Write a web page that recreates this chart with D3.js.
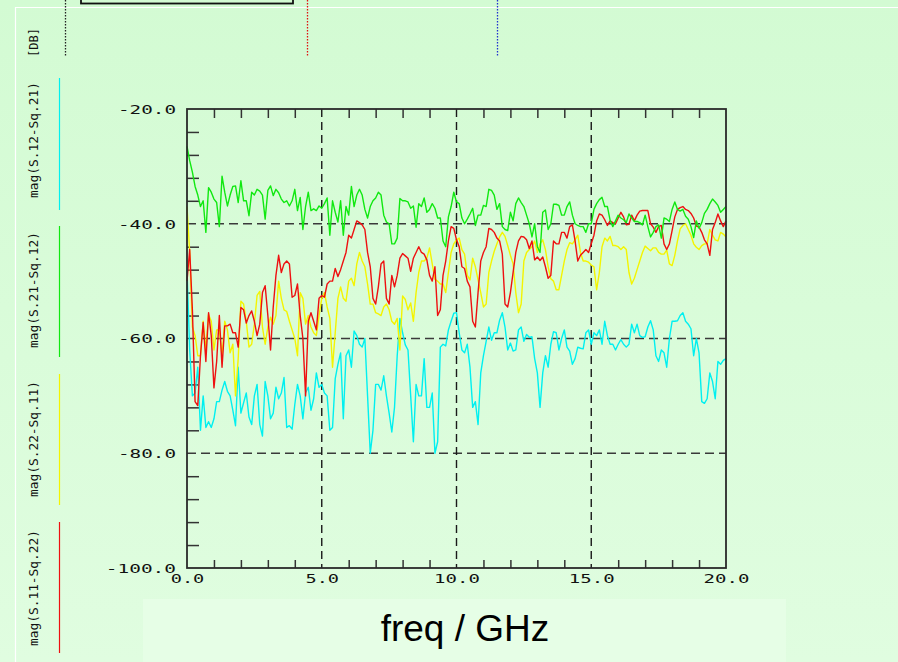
<!DOCTYPE html>
<html>
<head>
<meta charset="utf-8">
<script src="https://cdn.jsdelivr.net/npm/d3@7"></script>
<style>
  html, body { margin: 0; padding: 0; background: #d8fcd8; }
  svg { display: block; }
  .mono { font-family: "DejaVu Sans Mono", "Liberation Mono", monospace; }
</style>
</head>
<body>
<svg id="chart" width="898" height="662"></svg>
<script>
// Frequency grid, GHz (0.0 .. 20.0 in 0.1 GHz steps)
const freqStepGHz = 0.1;
const freqCount = 201;

// mag(S.12-Sq.21), dB
const magS12Sq21 = [
  -48,-62,-70,-69.5,-65,-76,-70,-75.5,-74.5,-75.5,
  -74,-71,-71,-69,-67.5,-69.2,-70,-72.5,-75.2,-65,
  -73,-71.2,-69.5,-73.7,-75,-70,-68,-75,-77,-67.5,
  -70,-74,-73,-68.5,-70.5,-69.5,-66.8,-75.5,-75.2,-75.8,
  -71.5,-68,-70,-74,-69.5,-68.5,-72.5,-70.5,-66,-68.5,
  -68,-69.5,-70,-76,-75.5,-67,-64.5,-62.5,-74,-63,
  -62,-65,-58.7,-59.5,-61,-61.5,-60,-70,-80,-76,
  -68,-68,-69,-66.5,-70,-73,-76.3,-72,-63,-56.5,
  -59,-61.1,-62,-70,-78,-68,-70,-70,-63.5,-72,
  -72,-69.5,-80,-78,-61.5,-61,-61.3,-58.5,-57,-55.6,
  -55.5,-59,-62,-62.5,-61,-65,-72,-71,-75,-66,
  -63,-60.5,-58,-60.3,-59,-59,-56.8,-55.5,-58,-62,
  -60.8,-62.2,-62,-58.5,-58,-60.5,-59.3,-59.8,-59.7,-63.5,
  -66,-72,-66,-63,-65,-61,-58.8,-59,-62,-60,
  -58.5,-61.5,-62.2,-64.5,-63.5,-61.5,-61.7,-61.8,-59,-58.5,
  -61,-59,-59.5,-58.5,-61,-57,-59.5,-61,-61,-62,
  -61,-60.2,-61,-61.5,-61,-57.5,-59,-57.5,-59.5,-59.8,
  -59.7,-58,-56.9,-58.5,-63,-64,-62,-62.5,-65,-60,
  -57,-57,-56.9,-56,-55.5,-57,-57.5,-58.3,-63,-60,
  -62.5,-71,-71.3,-70.5,-66,-67.5,-70.5,-64,-64.5,-63.8,
  -63.5
];

// mag(S.21-Sq.12), dB
const magS21Sq12 = [
  -26.5,-29,-31,-33.5,-35,-37,-36,-41.5,-33.7,-34.5,
  -35.7,-36.3,-40.5,-31.7,-34.5,-36.9,-35,-33.5,-33.4,-36.3,
  -32.5,-36,-36,-38.6,-34.5,-35,-34,-34.3,-35,-39.2,
  -34.2,-33.4,-35.1,-34,-34.6,-35.7,-36.3,-36,-36.9,-36,
  -34,-37.7,-35.4,-41,-37,-34.5,-37.7,-37.4,-37.7,-36.9,
  -37.3,-36.5,-35.5,-42,-36,-38,-39.7,-36,-42,-37,
  -38.5,-33.5,-37,-35,-34,-35,-37.5,-39,-37,-36,
  -35.5,-34.5,-35,-38.5,-39.7,-40,-43.5,-43.5,-42.5,-35.6,
  -36,-36,-36.2,-37.3,-36.9,-40.6,-36.5,-37,-35.5,-38,
  -37.5,-36.5,-37.3,-39,-39,-43,-44,-38.8,-37,-34.5,
  -36.2,-36.5,-39,-40,-39.2,-38.3,-37.3,-40.3,-38.5,-38.5,
  -36.8,-37,-34,-34.2,-35,-37.5,-36.5,-40.5,-41,-41.2,
  -38,-39.5,-36.5,-35.5,-36.3,-37,-38.5,-40,-42.3,-40,
  -44,-45,-38,-37.6,-41,-40,-36.6,-36.6,-36.8,-38.5,
  -38.5,-37,-36.2,-38.5,-40,-40.3,-40.5,-40.5,-41.5,-40,
  -40,-37.5,-36.5,-35.8,-35.4,-37,-37,-39.4,-40.5,-39.5,
  -38.5,-39,-39.3,-39.8,-38.3,-39,-39.6,-39.6,-39.8,-40.2,
  -38.5,-40.5,-42.3,-41.5,-40.5,-40.2,-42.5,-39,-39.2,-39.6,
  -37.5,-36.2,-37.5,-37.8,-37.5,-38.7,-39.2,-40.5,-42.4,-39.5,
  -40.8,-39.8,-38.2,-37.5,-36.5,-35.7,-36.2,-36.8,-38,-37.5,
  -37
];

// mag(S.22-Sq.11), dB
const magS22Sq11 = [
  -37,-45,-58,-59.5,-63,-63,-57,-62,-55.8,-57,
  -62,-58.5,-58.5,-63,-57,-58.5,-62.5,-61,-70,-63.5,
  -53.5,-54,-57,-61.5,-61,-57.5,-52.5,-51.8,-58,-61,
  -58,-56.3,-57.5,-56,-50,-53,-55,-55.3,-57,-58.5,
  -60,-63,-52,-53,-57.5,-56,-58,-59,-59.5,-56,
  -53,-52,-54.5,-56.5,-65,-59,-53,-51,-53,-53.5,
  -50,-49.5,-50.8,-47,-45,-46.5,-47.5,-50.5,-54,-54,
  -55.5,-55.7,-56,-54.5,-54,-55,-57,-57.5,-56.5,-62,
  -52.6,-53.2,-55,-53.8,-57,-52,-48.5,-46.5,-46.5,-46,
  -44.2,-47,-49.7,-50,-50.5,-50.5,-52,-48.5,-45,-43.5,
  -42.8,-42.5,-44.5,-45.3,-49,-49.8,-46,-47.5,-49.8,-52,
  -54.5,-54,-48.5,-46.5,-44.8,-43.5,-42.3,-41.5,-42.2,-43.8,
  -45.5,-47,-52,-55.5,-54,-46.5,-45,-44.5,-44,-43,
  -45,-43.5,-42.8,-44.5,-47.5,-49.6,-50,-51.5,-51.5,-49,
  -46.5,-44.5,-43.3,-43.5,-42.8,-42,-45,-46.5,-46.5,-46.7,
  -47.2,-47.5,-51.5,-48.5,-44,-42.5,-43,-42.2,-43.8,-43.8,
  -44,-44.5,-44,-44.5,-48.5,-50.5,-49.5,-48,-46.5,-45,
  -43.9,-44.3,-44.7,-44.2,-44.2,-45,-45.3,-45.3,-44.6,-47,
  -47.3,-45.5,-43,-40.9,-40.3,-40,-41,-42,-43.5,-44.1,
  -44.5,-43.8,-43.5,-43.5,-41,-42,-42.8,-43,-41.5,-41.8,
  -42.3
];

// mag(S.11-Sq.22), dB
const magS11Sq22 = [
  -50,-44.5,-55,-71,-71.7,-63,-57.2,-64,-55.5,-59.5,
  -68.6,-64,-56,-65,-57.8,-57.8,-57.5,-59,-59,-61.5,
  -54.6,-55,-57.3,-56,-55.2,-57,-59.5,-57.5,-52,-50.8,
  -56,-62,-54.5,-49,-45.5,-48.5,-47,-46.5,-47,-52.8,
  -52.5,-50.5,-56,-60,-70,-57,-55.5,-57,-58.5,-53,
  -52.5,-52.8,-50.5,-50,-50,-47.8,-49.2,-48,-46.5,-45,
  -42,-42.5,-41,-39.5,-39.8,-40.2,-41,-45,-47.5,-53,
  -54,-51,-47,-46.5,-53,-54,-49,-51,-49,-46,
  -45.2,-45.6,-46,-48.3,-46,-45,-44,-45,-45.3,-46.3,
  -49,-50,-47.5,-56,-55,-49,-46.5,-43,-40.5,-40.8,
  -42.8,-44,-47.5,-47.8,-50,-51,-57,-58,-52,-46.5,
  -45,-44,-40.8,-41,-41.5,-42.5,-43,-45.3,-54,-54.5,
  -52,-48.5,-45,-43,-42.2,-42.3,-42.8,-44.3,-43,-46.3,
  -45.8,-46.4,-45.8,-47.5,-49.5,-49,-43,-43.5,-43.5,-41.5,
  -41.5,-42.5,-40.5,-40.2,-43,-46.5,-45.5,-45,-44.5,-45,
  -43.5,-42,-39.5,-38.3,-38.5,-39.3,-40.3,-39.5,-39.8,-40,
  -39,-38,-38.8,-40.2,-40.1,-38.5,-39.5,-38.5,-37.8,-37.7,
  -37.7,-37.7,-40,-40.6,-41.5,-40.5,-40.3,-43.5,-44.5,-43.5,
  -41.2,-38.8,-37.5,-37.2,-37,-37.5,-37.7,-38.2,-39,-40.4,
  -40.6,-41.5,-42.8,-43.5,-45.5,-41,-39.8,-38.3,-39.5,-40.5,
  -39.5
];

const seriesNames = ["mag(S.12-Sq.21)", "mag(S.21-Sq.12)", "mag(S.22-Sq.11)", "mag(S.11-Sq.22)"];
const seriesColors = ["#00f0f0", "#10e810", "#f4f400", "#ee1010"];
const seriesValues = [magS12Sq21, magS21Sq12, magS22Sq11, magS11Sq22];
const drawOrder = [0, 2, 3, 1];

const xTickValues = [0, 5, 10, 15, 20];
const xTickLabels = ["0.0", "5.0", "10.0", "15.0", "20.0"];
const yTickValues = [-20, -40, -60, -80, -100];
const yTickLabels = ["-20.0", "-40.0", "-60.0", "-80.0", "-100.0"];
const yUnitLabel = "[DB]";
const xAxisTitle = "freq / GHz";

const freqs = d3.range(freqCount).map(i => +(i * freqStepGHz).toFixed(1));

const svg = d3.select("#chart");
const W = 898, H = 662;

// page background
const defs = svg.append("defs");
const grad = defs.append("linearGradient").attr("id", "bg").attr("x1", 0).attr("y1", 0).attr("x2", 0).attr("y2", 1);
grad.append("stop").attr("offset", "0%").attr("stop-color", "#d3fbd3");
grad.append("stop").attr("offset", "100%").attr("stop-color", "#e0fde0");
svg.append("rect").attr("width", W).attr("height", H).attr("fill", "url(#bg)");

// inner panel edge
svg.append("path").attr("d", "M15.5,662 V7.5 H898").attr("fill", "none")
  .attr("stroke", "#ffffff").attr("stroke-width", 1.2);

// lighter band behind the x-axis title
svg.append("rect").attr("x", 143).attr("y", 599).attr("width", 643).attr("height", 63)
  .attr("fill", "#e6fee6");

// header box and marker lines
svg.append("rect").attr("x", 81).attr("y", -10).attr("width", 212).attr("height", 13.5)
  .attr("fill", "none").attr("stroke", "#111").attr("stroke-width", 1.8);
[["#222", 65], ["#e01010", 307], ["#2030d0", 497]].forEach(([c, x]) => {
  svg.append("line").attr("x1", x + 0.5).attr("x2", x + 0.5).attr("y1", 0).attr("y2", 56)
    .attr("stroke", c).attr("stroke-width", 1.3).attr("stroke-dasharray", "1.5,1.5");
});

// scales
const x = d3.scaleLinear().domain([0, 20]).range([187, 726]);
const y = d3.scaleLinear().domain([-100, -20]).range([568, 109]);

const ink = "#2a2a2a";

// grid (dashed)
const grid = svg.append("g");
[-40, -60, -80].forEach(v => {
  grid.append("line").attr("x1", x(0)).attr("x2", x(20)).attr("y1", y(v)).attr("y2", y(v))
    .attr("stroke", "#3a3a3a").attr("stroke-width", 1.5).attr("stroke-dasharray", "9,5");
});
[5, 10, 15].forEach(v => {
  grid.append("line").attr("x1", x(v)).attr("x2", x(v)).attr("y1", y(-20)).attr("y2", y(-100))
    .attr("stroke", "#1a1a1a").attr("stroke-width", 1.4).attr("stroke-dasharray", "8,5");
});

// minor ticks via d3 axes
const minorX = d3.range(1, 20).filter(v => v % 5 !== 0);
const minorY = d3.range(-96, -20, 4).filter(v => v % 20 !== 0);
const tickStyle = g => {
  g.select(".domain").remove();
  g.selectAll(".tick line").attr("stroke", "#333").attr("stroke-width", 1.5);
  g.selectAll("text").remove();
};
svg.append("g").attr("transform", `translate(0,${y(-20)})`)
  .call(d3.axisBottom(x).tickValues(minorX).tickSize(9)).call(tickStyle);
svg.append("g").attr("transform", `translate(0,${y(-100)})`)
  .call(d3.axisTop(x).tickValues(minorX).tickSize(8)).call(tickStyle);
svg.append("g").attr("transform", `translate(${x(0)},0)`)
  .call(d3.axisRight(y).tickValues(minorY).tickSize(12)).call(tickStyle);

// series
const line = d3.line().x((d, i) => x(freqs[i])).y(d => y(d));
const plot = svg.append("g");
drawOrder.forEach(k => {
  plot.append("path").datum(seriesValues[k]).attr("d", line)
    .attr("fill", "none").attr("stroke", seriesColors[k]).attr("stroke-width", 1.4)
    .attr("stroke-linejoin", "round");
});

// frame
svg.append("rect").attr("x", x(0)).attr("y", y(-20)).attr("width", x(20) - x(0)).attr("height", y(-100) - y(-20))
  .attr("fill", "none").attr("stroke", ink).attr("stroke-width", 1.8);

// wide plotter-style lettering: each character gets a fixed cell
const CELL = 12.2;
const plotterText = (sel, n) => sel.attr("class", "mono").attr("font-size", 12).attr("fill", "#111")
  .attr("lengthAdjust", "spacingAndGlyphs").attr("textLength", CELL * n - 3);

// axis labels
const yAxis = d3.axisLeft(y).tickValues(yTickValues).tickSize(0).tickPadding(0)
  .tickFormat((d, i) => yTickLabels[i]);
const gy = svg.append("g").attr("transform", `translate(${x(0) - 11},0)`).call(yAxis);
gy.select(".domain").remove();
gy.selectAll("text").each(function (d, i) {
  plotterText(d3.select(this), yTickLabels[i].length).attr("dy", "0.36em");
});

const xAxis = d3.axisBottom(x).tickValues(xTickValues).tickSize(0).tickPadding(0)
  .tickFormat((d, i) => xTickLabels[i]);
const gx = svg.append("g").attr("transform", `translate(0,${y(-100) + 14})`).call(xAxis);
gx.select(".domain").remove();
gx.selectAll("text").each(function (d, i) {
  plotterText(d3.select(this), xTickLabels[i].length).attr("dy", "0.1em");
});

svg.append("text").attr("x", 465).attr("y", 641).attr("text-anchor", "middle")
  .attr("font-family", "Liberation Sans, Arial, sans-serif").attr("font-size", 37)
  .attr("fill", "#000").text(xAxisTitle);

// rotated unit and legend entries
const leftLabel = (txt, cy, len) => svg.append("text").attr("class", "mono")
  .attr("transform", `translate(38,${cy}) rotate(-90)`).attr("text-anchor", "middle")
  .attr("font-size", 12.5).attr("lengthAdjust", "spacingAndGlyphs").attr("textLength", len)
  .attr("fill", "#111").text(txt);
leftLabel(yUnitLabel, 42.5, 29);
const legendCenters = [140, 290, 439, 588];
const legendSpans = [[78, 210], [226, 357], [374, 505], [522, 653]];
seriesNames.forEach((name, k) => {
  leftLabel(name, legendCenters[k], 116);
  svg.append("line").attr("x1", 59.5).attr("x2", 59.5)
    .attr("y1", legendSpans[k][0]).attr("y2", legendSpans[k][1])
    .attr("stroke", seriesColors[k]).attr("stroke-width", 1.2);
});
</script>
</body>
</html>
